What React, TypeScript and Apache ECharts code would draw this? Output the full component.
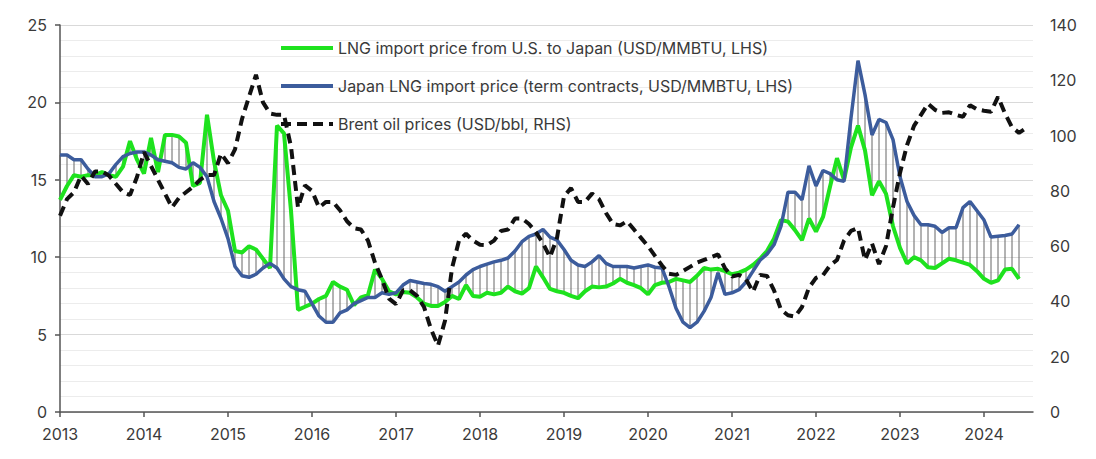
import React, { useEffect, useRef } from "react";
import * as echarts from "echarts";

// Monthly categories Jan 2013 .. Aug 2024
const startYear = 2013;
const monthCount = 140;
const categories: string[] = Array.from({ length: monthCount }, (_, i) => {
  const y = startYear + Math.floor(i / 12);
  const m = (i % 12) + 1;
  return `${y}-${m < 10 ? "0" + m : m}`;
});

// LNG import price from U.S. to Japan (USD/MMBTU, LHS)
const lngUSJapan: number[] = [
  13.7, 14.6, 15.3, 15.2, 15.3, 15.3, 15.5, 15.3, 15.2, 15.85, 17.5, 16.3,
  15.4, 17.7, 15.5, 17.9, 17.9, 17.8, 17.4, 14.6, 14.8, 19.2, 16.2, 14.0,
  13.0, 10.4, 10.3, 10.7, 10.5, 9.9, 9.3, 18.5, 18.0, 13.0, 6.6, 6.8,
  7.0, 7.3, 7.5, 8.4, 8.1, 7.9, 6.9, 7.4, 7.55, 9.2, 8.6, 7.8,
  7.6, 7.75, 7.7, 7.4, 7.0, 6.85, 6.85, 7.1, 7.5, 7.3, 8.2, 7.5,
  7.45, 7.7, 7.6, 7.7, 8.1, 7.8, 7.65, 8.0, 9.4, 8.7, 7.95, 7.8,
  7.7, 7.5, 7.35, 7.8, 8.1, 8.05, 8.1, 8.3, 8.6, 8.35, 8.2, 8.0,
  7.6, 8.2, 8.35, 8.4, 8.6, 8.5, 8.4, 8.8, 9.3, 9.2, 9.25, 9.1,
  8.9, 9.0, 9.2, 9.5, 9.9, 10.4, 11.2, 12.4, 12.3, 11.75, 11.1, 12.5,
  11.65, 12.6, 14.55, 16.4, 15.0, 17.1, 18.5, 16.9, 14.0, 14.9, 14.1, 12.0,
  10.6, 9.6, 10.0, 9.8, 9.35, 9.3, 9.6, 9.9, 9.8, 9.65, 9.5, 9.1,
  8.6, 8.35, 8.5, 9.2, 9.25, 8.6,
];

// Japan LNG import price (term contracts, USD/MMBTU, LHS)
const lngJapanTerm: number[] = [
  16.6, 16.6, 16.3, 16.3, 15.7, 15.2, 15.2, 15.4, 16.0, 16.5, 16.7, 16.8,
  16.8, 16.6, 16.3, 16.2, 16.1, 15.8, 15.7, 16.1, 15.8, 15.2, 13.6, 12.5,
  11.2, 9.4, 8.8, 8.7, 8.9, 9.3, 9.6, 9.3, 8.6, 8.1, 7.9, 7.8,
  7.0, 6.2, 5.8, 5.8, 6.4, 6.6, 7.0, 7.2, 7.4, 7.4, 7.7, 7.6,
  7.7, 8.2, 8.5, 8.4, 8.3, 8.25, 8.1, 7.8, 8.1, 8.4, 8.85, 9.2,
  9.4, 9.55, 9.7, 9.8, 9.95, 10.4, 11.0, 11.35, 11.5, 11.8, 11.3, 11.1,
  10.5, 9.8, 9.5, 9.4, 9.7, 10.1, 9.6, 9.4, 9.4, 9.4, 9.3, 9.4,
  9.5, 9.35, 9.3, 8.1, 6.7, 5.8, 5.45, 5.8, 6.5, 7.4, 9.0, 7.6,
  7.7, 7.9, 8.4, 9.1, 9.8, 10.2, 10.8, 12.0, 14.2, 14.2, 13.7, 15.9,
  14.6, 15.6, 15.4, 15.0, 14.9, 19.0, 22.7, 20.5, 17.9, 18.9, 18.7, 17.6,
  15.2, 13.6, 12.7, 12.1, 12.1, 12.0, 11.6, 11.9, 11.9, 13.2, 13.6, 13.0,
  12.4, 11.3, 11.35, 11.4, 11.5, 12.1,
];

// Brent oil prices (USD/bbl, RHS)
const brentOil: number[] = [
  71, 77, 79.5, 85.5, 82.5, 87, 87, 85.5, 82.5, 79.5, 78.5, 85,
  94, 89, 84, 79, 74, 77.5, 79.5, 81.5, 84, 85.7, 85.7, 93.5,
  90, 95, 106, 114, 122, 112, 108, 107.5, 107.5, 96, 74, 82,
  80, 74, 76, 76, 73, 69, 66.5, 66, 62, 54, 48, 41,
  39, 44, 44, 42, 38, 30, 24, 33, 52, 62, 64.5, 62,
  60.5, 60.4, 62, 65.5, 66, 70, 70, 68, 65, 61, 56, 63,
  78, 81, 76, 76, 79, 77, 72, 68, 67.5, 69, 66, 63,
  60, 56.5, 53, 50, 49.6, 51, 52.5, 54, 55, 56, 57, 52,
  49, 49.6, 48, 43.5, 49.6, 49.2, 44, 37, 35, 34.5, 38, 45,
  48.5, 49.5, 53, 55, 62, 65.5, 66.6, 55, 61, 53.5, 60, 74,
  86.5, 96.5, 103.5, 107.5, 111.5, 109.3, 108.2, 108.4, 107.5, 106.8, 111, 109.5,
  109, 108.6, 114, 108, 103, 101, 102.7,
];

const seriesNames = [
  "LNG import price from U.S. to Japan (USD/MMBTU, LHS)",
  "Japan LNG import price (term contracts, USD/MMBTU, LHS)",
  "Brent oil prices (USD/bbl, RHS)",
];

const FONT = "Inter, 'Noto Sans', sans-serif";
const TEXT = "#3a3a3a";
const GREEN = "#1ee21e";
const BLUE = "#3c5c9c";
const BLACK = "#111";
const DASH = [10, 6];

export default function App() {
  const ref = useRef<HTMLDivElement>(null);

  useEffect(() => {
    if (!ref.current) return;
    const chart = echarts.init(ref.current, null, { renderer: "svg" });
    const hatch = lngUSJapan.map((g, i) => [i, g, lngJapanTerm[i]]);
    const yearTick = (idx: number) => idx % 12 === 0;
    const transparentItem = { color: "rgba(0,0,0,0)", borderColor: "rgba(0,0,0,0)", borderWidth: 0 };

    chart.setOption({
      animation: false,
      textStyle: { fontFamily: FONT },
      grid: { left: 52, right: 55, top: 17, bottom: 39, containLabel: false },
      legend: {
        orient: "vertical",
        left: 266,
        top: 27,
        itemWidth: 52,
        itemHeight: 14,
        itemGap: 22,
        itemTextGap: 8,
        data: [
          { name: seriesNames[0], itemStyle: transparentItem, lineStyle: { color: GREEN, width: 4 } },
          { name: seriesNames[1], itemStyle: transparentItem, lineStyle: { color: BLUE, width: 4 } },
          { name: seriesNames[2], itemStyle: transparentItem, lineStyle: { color: BLACK, width: 4, type: DASH } },
        ],
        textStyle: { fontSize: 16, color: TEXT, fontFamily: FONT },
        selectedMode: false,
      },
      xAxis: {
        type: "category",
        data: categories,
        boundaryGap: false,
        axisLine: { lineStyle: { color: "#555", width: 1.5 } },
        axisTick: { interval: yearTick, length: 5, lineStyle: { color: "#555", width: 1.5 } },
        axisLabel: {
          interval: yearTick,
          formatter: (v: string) => v.slice(0, 4),
          fontSize: 16,
          color: TEXT,
          margin: 14,
          fontFamily: FONT,
        },
        splitLine: { show: false },
      },
      yAxis: [
        {
          type: "value",
          min: 0,
          max: 25,
          interval: 5,
          axisLine: { show: true, lineStyle: { color: "#555", width: 1.5 } },
          axisTick: { show: true, length: 5, lineStyle: { color: "#555", width: 1.5 } },
          axisLabel: { fontSize: 16, color: TEXT, margin: 13, fontFamily: FONT },
          splitLine: { lineStyle: { color: "#d9d9d9", width: 1 } },
          minorTick: { show: false, splitNumber: 5 },
          minorSplitLine: { show: true, lineStyle: { color: "#ececec", width: 1 } },
        },
        {
          type: "value",
          min: 0,
          max: 140,
          interval: 20,
          position: "right",
          axisLine: { show: false },
          axisTick: { show: false },
          axisLabel: { fontSize: 16, color: TEXT, margin: 17, fontFamily: FONT },
          splitLine: { show: false },
        },
      ],
      series: [
        {
          type: "custom",
          name: "spread",
          yAxisIndex: 0,
          silent: true,
          z: 1,
          encode: { x: 0, y: [1, 2] },
          data: hatch,
          renderItem: (params: any, api: any) => {
            const i = api.value(0);
            const p1 = api.coord([i, api.value(1)]);
            const p2 = api.coord([i, api.value(2)]);
            return {
              type: "line",
              shape: { x1: p1[0], y1: p1[1], x2: p2[0], y2: p2[1] },
              style: { stroke: "#666", lineWidth: 1 },
            };
          },
        },
        {
          type: "line",
          name: seriesNames[0],
          data: lngUSJapan,
          yAxisIndex: 0,
          symbol: "none",
          z: 3,
          lineStyle: { color: GREEN, width: 4 },
          itemStyle: { color: GREEN },
        },
        {
          type: "line",
          name: seriesNames[1],
          data: lngJapanTerm,
          yAxisIndex: 0,
          symbol: "none",
          z: 4,
          lineStyle: { color: BLUE, width: 3.5 },
          itemStyle: { color: BLUE },
        },
        {
          type: "line",
          name: seriesNames[2],
          data: brentOil,
          yAxisIndex: 1,
          symbol: "none",
          z: 5,
          lineStyle: { color: BLACK, width: 4, type: DASH },
          itemStyle: { color: BLACK },
        },
      ],
    });

    return () => chart.dispose();
  }, []);

  return <div ref={ref} style={{ width: 1080, height: 443 }} />;
}
